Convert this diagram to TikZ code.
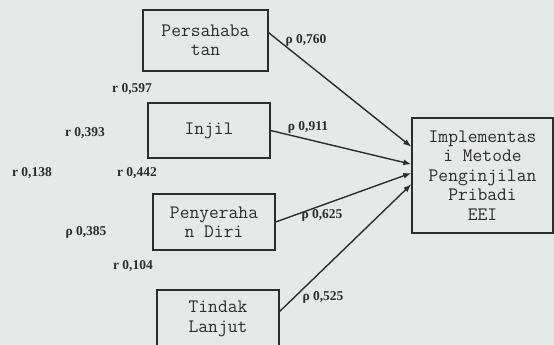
\documentclass[tikz,border=0pt]{standalone}
\usepackage{fontspec}
\setmainfont{Liberation Serif}
\usepackage{xcolor}
\usepackage{tikz}
\usetikzlibrary{arrows.meta}
\definecolor{paper}{RGB}{231,233,232}
\definecolor{ink}{RGB}{45,45,45}
\tikzset{
  varbox/.style={
    draw=ink,
    line width=1.4pt,
    align=center,
    minimum width=122pt,
    minimum height=56pt,
    inner sep=2pt,
    text=ink,
    font=\ttfamily\fontsize{19}{19.5}\selectfont
  },
  coef/.style={
    inner sep=0pt,
    text=ink,
    font=\bfseries\fontsize{13.5}{13.5}\selectfont
  },
  every edge/.style={draw=ink, -{Latex[length=8pt,width=6pt]}, line width=1.4pt}
}

\begin{document}
\begin{tikzpicture}[x=1pt,y=-1pt]
  \useasboundingbox (0,0) rectangle (554,345);
  \fill[paper] (0,0) rectangle (554,345);

  \node[varbox, minimum width=125pt, minimum height=61pt] (pers) at (205.5,40.5) {Persahaba\\tan};
  \node[varbox, minimum height=55pt] (injil) at (209,130.5) {Injil};
  \node[varbox] (serah) at (214,222) {Penyeraha\\n Diri};
  \node[varbox, minimum height=58pt] (tindak) at (218,319) {Tindak\\Lanjut};
  \node[varbox, minimum width=141pt, minimum height=115pt] (impl) at (482.5,175.5)
    {Implementas\\i Metode\\Penginjilan\\Pribadi\\EEI};

  % koefisien jalur
  \node[coef] (pPers) at (306,40) {ρ 0,760};
  \node[coef] (pInjil) at (308,127) {ρ 0,911};
  \node[coef] (pSerah) at (322,215) {ρ 0,625};
  \node[coef] (pTindak) at (323,297) {ρ 0,525};

  % korelasi antar variabel
  \node[coef] (rPersInjil) at (132,89) {r 0,597};
  \node[coef] (rPersSerah) at (85,133) {r 0,393};
  \node[coef] (rPersTindak) at (32,173) {r 0,138};
  \node[coef] (rInjilSerah) at (137,173) {r 0,442};
  \node[coef] (rInjilTindak) at (86,232) {ρ 0,385};
  \node[coef] (rSerahTindak) at (133,266) {r 0,104};

  \path (pers.7) edge (impl.158.7)
        (injil.east) edge (impl.171.5)
        (serah.east) edge (impl.178.8)
        (tindak.7) edge (impl.187.7);
\end{tikzpicture}
\end{document}
